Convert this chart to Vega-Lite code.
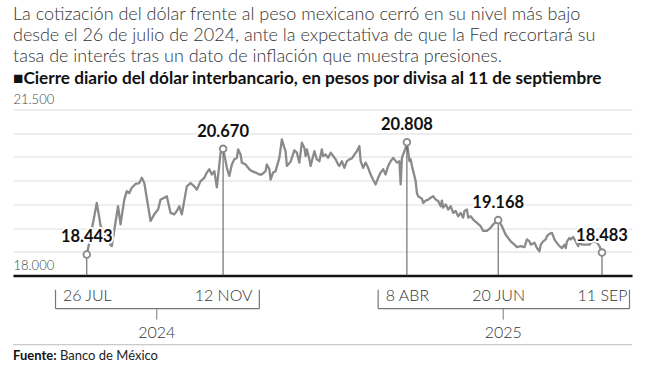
{
  "$schema": "https://vega.github.io/schema/vega-lite/v6.json",
  "width": 619,
  "height": 166,
  "autosize": {"type": "pad"},
  "padding": {"left": 12, "top": 5.5, "right": 15, "bottom": 0},
  "background": "white",
  "config": {"view": {"stroke": null}, "font": "Lato"},
  "title": {
    "text": [
      "La cotización del dólar frente al peso mexicano cerró en su nivel más bajo",
      "desde el 26 de julio de 2024, ante la expectativa de que la Fed recortará su",
      "tasa de interés tras un dato de inflación que muestra presiones."
    ],
    "subtitle": "■Cierre diario del dólar interbancario, en pesos por divisa al 11 de septiembre",
    "anchor": "start",
    "frame": "group",
    "font": "Lato",
    "fontSize": 18,
    "fontWeight": 300,
    "color": "#333333",
    "lineHeight": 21,
    "subtitleFont": "Lato",
    "subtitleFontSize": 17.2,
    "subtitleFontWeight": "bold",
    "subtitleColor": "#111111",
    "subtitlePadding": 4,
    "offset": 6
  },
  "datasets": {
    "serie": [
      {"fecha": "2024-07-26", "valor": 18.443}, {"fecha": "2024-07-28", "valor": 18.69}, {"fecha": "2024-08-03", "valor": 19.53}, {"fecha": "2024-08-05", "valor": 19.22}, {"fecha": "2024-08-06", "valor": 19.05}, {"fecha": "2024-08-14", "valor": 18.64}, {"fecha": "2024-08-15", "valor": 18.62}, {"fecha": "2024-08-20", "valor": 19.46}, {"fecha": "2024-08-22", "valor": 19.08}, {"fecha": "2024-08-25", "valor": 19.60}, {"fecha": "2024-08-27", "valor": 19.78}, {"fecha": "2024-08-29", "valor": 19.74}, {"fecha": "2024-08-31", "valor": 19.85}, {"fecha": "2024-09-03", "valor": 19.93}, {"fecha": "2024-09-06", "valor": 19.95}, {"fecha": "2024-09-08", "valor": 20.06}, {"fecha": "2024-09-10", "valor": 19.95}, {"fecha": "2024-09-15", "valor": 19.15}, {"fecha": "2024-09-18", "valor": 19.29}, {"fecha": "2024-09-21", "valor": 19.39}, {"fecha": "2024-09-23", "valor": 19.60}, {"fecha": "2024-09-26", "valor": 19.64}, {"fecha": "2024-09-28", "valor": 19.67}, {"fecha": "2024-10-01", "valor": 19.32}, {"fecha": "2024-10-04", "valor": 19.29}, {"fecha": "2024-10-06", "valor": 19.36}, {"fecha": "2024-10-08", "valor": 19.46}, {"fecha": "2024-10-10", "valor": 19.29}, {"fecha": "2024-10-14", "valor": 19.88}, {"fecha": "2024-10-17", "valor": 19.95}, {"fecha": "2024-10-20", "valor": 19.88}, {"fecha": "2024-10-22", "valor": 19.81}, {"fecha": "2024-10-25", "valor": 19.99}, {"fecha": "2024-10-28", "valor": 20.06}, {"fecha": "2024-10-30", "valor": 20.17}, {"fecha": "2024-11-01", "valor": 20.24}, {"fecha": "2024-11-03", "valor": 20.13}, {"fecha": "2024-11-05", "valor": 20.20}, {"fecha": "2024-11-07", "valor": 19.86}, {"fecha": "2024-11-09", "valor": 20.34}, {"fecha": "2024-11-10", "valor": 20.59}, {"fecha": "2024-11-12", "valor": 20.670}, {"fecha": "2024-11-13", "valor": 20.55}, {"fecha": "2024-11-15", "valor": 20.27}, {"fecha": "2024-11-17", "valor": 20.10}, {"fecha": "2024-11-19", "valor": 20.34}, {"fecha": "2024-11-21", "valor": 20.45}, {"fecha": "2024-11-23", "valor": 20.48}, {"fecha": "2024-11-24", "valor": 20.66}, {"fecha": "2024-11-26", "valor": 20.55}, {"fecha": "2024-11-27", "valor": 20.38}, {"fecha": "2024-11-30", "valor": 20.34}, {"fecha": "2024-12-03", "valor": 20.24}, {"fecha": "2024-12-05", "valor": 20.20}, {"fecha": "2024-12-08", "valor": 20.17}, {"fecha": "2024-12-11", "valor": 20.13}, {"fecha": "2024-12-13", "valor": 20.13}, {"fecha": "2024-12-16", "valor": 20.20}, {"fecha": "2024-12-17", "valor": 20.34}, {"fecha": "2024-12-19", "valor": 20.24}, {"fecha": "2024-12-20", "valor": 20.02}, {"fecha": "2024-12-22", "valor": 20.17}, {"fecha": "2024-12-24", "valor": 20.20}, {"fecha": "2024-12-27", "valor": 20.48}, {"fecha": "2024-12-29", "valor": 20.87}, {"fecha": "2024-12-31", "valor": 20.69}, {"fecha": "2025-01-01", "valor": 20.62}, {"fecha": "2025-01-02", "valor": 20.31}, {"fecha": "2025-01-05", "valor": 20.40}, {"fecha": "2025-01-08", "valor": 20.64}, {"fecha": "2025-01-10", "valor": 20.59}, {"fecha": "2025-01-12", "valor": 20.38}, {"fecha": "2025-01-14", "valor": 20.80}, {"fecha": "2025-01-16", "valor": 20.69}, {"fecha": "2025-01-17", "valor": 20.52}, {"fecha": "2025-01-18", "valor": 20.66}, {"fecha": "2025-01-20", "valor": 20.45}, {"fecha": "2025-01-21", "valor": 20.31}, {"fecha": "2025-01-24", "valor": 20.62}, {"fecha": "2025-01-26", "valor": 20.45}, {"fecha": "2025-01-28", "valor": 20.41}, {"fecha": "2025-01-30", "valor": 20.66}, {"fecha": "2025-01-31", "valor": 20.52}, {"fecha": "2025-02-02", "valor": 20.55}, {"fecha": "2025-02-04", "valor": 20.48}, {"fecha": "2025-02-06", "valor": 20.59}, {"fecha": "2025-02-08", "valor": 20.52}, {"fecha": "2025-02-10", "valor": 20.45}, {"fecha": "2025-02-12", "valor": 20.34}, {"fecha": "2025-02-13", "valor": 20.31}, {"fecha": "2025-02-15", "valor": 20.41}, {"fecha": "2025-02-17", "valor": 20.27}, {"fecha": "2025-02-19", "valor": 20.41}, {"fecha": "2025-02-21", "valor": 20.45}, {"fecha": "2025-02-23", "valor": 20.47}, {"fecha": "2025-02-25", "valor": 20.55}, {"fecha": "2025-02-27", "valor": 20.62}, {"fecha": "2025-03-01", "valor": 20.73}, {"fecha": "2025-03-02", "valor": 20.41}, {"fecha": "2025-03-04", "valor": 20.27}, {"fecha": "2025-03-06", "valor": 20.38}, {"fecha": "2025-03-08", "valor": 20.27}, {"fecha": "2025-03-10", "valor": 20.13}, {"fecha": "2025-03-12", "valor": 20.02}, {"fecha": "2025-03-14", "valor": 19.92}, {"fecha": "2025-03-16", "valor": 20.06}, {"fecha": "2025-03-18", "valor": 20.17}, {"fecha": "2025-03-20", "valor": 20.24}, {"fecha": "2025-03-22", "valor": 20.13}, {"fecha": "2025-03-24", "valor": 20.31}, {"fecha": "2025-03-26", "valor": 20.41}, {"fecha": "2025-03-28", "valor": 20.48}, {"fecha": "2025-03-31", "valor": 20.38}, {"fecha": "2025-04-02", "valor": 20.41}, {"fecha": "2025-04-03", "valor": 19.92}, {"fecha": "2025-04-04", "valor": 20.48}, {"fecha": "2025-04-07", "valor": 20.69}, {"fecha": "2025-04-08", "valor": 20.808}, {"fecha": "2025-04-09", "valor": 20.62}, {"fecha": "2025-04-10", "valor": 20.41}, {"fecha": "2025-04-11", "valor": 20.45}, {"fecha": "2025-04-12", "valor": 20.31}, {"fecha": "2025-04-13", "valor": 20.20}, {"fecha": "2025-04-14", "valor": 20.10}, {"fecha": "2025-04-15", "valor": 19.99}, {"fecha": "2025-04-16", "valor": 19.74}, {"fecha": "2025-04-17", "valor": 19.67}, {"fecha": "2025-04-20", "valor": 19.62}, {"fecha": "2025-04-21", "valor": 19.53}, {"fecha": "2025-04-23", "valor": 19.58}, {"fecha": "2025-04-25", "valor": 19.60}, {"fecha": "2025-04-27", "valor": 19.64}, {"fecha": "2025-04-29", "valor": 19.67}, {"fecha": "2025-05-01", "valor": 19.60}, {"fecha": "2025-05-03", "valor": 19.57}, {"fecha": "2025-05-05", "valor": 19.46}, {"fecha": "2025-05-06", "valor": 19.58}, {"fecha": "2025-05-07", "valor": 19.43}, {"fecha": "2025-05-09", "valor": 19.50}, {"fecha": "2025-05-11", "valor": 19.39}, {"fecha": "2025-05-13", "valor": 19.46}, {"fecha": "2025-05-15", "valor": 19.32}, {"fecha": "2025-05-17", "valor": 19.36}, {"fecha": "2025-05-19", "valor": 19.25}, {"fecha": "2025-05-21", "valor": 19.32}, {"fecha": "2025-05-23", "valor": 19.22}, {"fecha": "2025-05-24", "valor": 19.36}, {"fecha": "2025-05-26", "valor": 19.39}, {"fecha": "2025-05-27", "valor": 19.22}, {"fecha": "2025-05-29", "valor": 19.25}, {"fecha": "2025-05-31", "valor": 19.18}, {"fecha": "2025-06-03", "valor": 19.11}, {"fecha": "2025-06-06", "valor": 19.04}, {"fecha": "2025-06-08", "valor": 18.94}, {"fecha": "2025-06-11", "valor": 18.94}, {"fecha": "2025-06-14", "valor": 19.01}, {"fecha": "2025-06-16", "valor": 19.08}, {"fecha": "2025-06-20", "valor": 19.168}, {"fecha": "2025-06-23", "valor": 19.04}, {"fecha": "2025-06-26", "valor": 18.86}, {"fecha": "2025-06-28", "valor": 18.79}, {"fecha": "2025-06-30", "valor": 18.72}, {"fecha": "2025-07-03", "valor": 18.65}, {"fecha": "2025-07-05", "valor": 18.60}, {"fecha": "2025-07-08", "valor": 18.62}, {"fecha": "2025-07-11", "valor": 18.60}, {"fecha": "2025-07-13", "valor": 18.76}, {"fecha": "2025-07-15", "valor": 18.72}, {"fecha": "2025-07-16", "valor": 18.65}, {"fecha": "2025-07-19", "valor": 18.69}, {"fecha": "2025-07-21", "valor": 18.58}, {"fecha": "2025-07-23", "valor": 18.51}, {"fecha": "2025-07-24", "valor": 18.65}, {"fecha": "2025-07-26", "valor": 18.72}, {"fecha": "2025-07-28", "valor": 18.76}, {"fecha": "2025-07-29", "valor": 18.83}, {"fecha": "2025-07-31", "valor": 18.88}, {"fecha": "2025-08-02", "valor": 18.90}, {"fecha": "2025-08-04", "valor": 18.76}, {"fecha": "2025-08-05", "valor": 18.72}, {"fecha": "2025-08-07", "valor": 18.65}, {"fecha": "2025-08-08", "valor": 18.62}, {"fecha": "2025-08-10", "valor": 18.58}, {"fecha": "2025-08-12", "valor": 18.65}, {"fecha": "2025-08-13", "valor": 18.58}, {"fecha": "2025-08-14", "valor": 18.72}, {"fecha": "2025-08-16", "valor": 18.79}, {"fecha": "2025-08-17", "valor": 18.76}, {"fecha": "2025-08-19", "valor": 18.81}, {"fecha": "2025-08-21", "valor": 18.72}, {"fecha": "2025-08-23", "valor": 18.62}, {"fecha": "2025-08-24", "valor": 18.69}, {"fecha": "2025-08-26", "valor": 18.65}, {"fecha": "2025-08-29", "valor": 18.65}, {"fecha": "2025-09-01", "valor": 18.65}, {"fecha": "2025-09-02", "valor": 18.69}, {"fecha": "2025-09-05", "valor": 18.72}, {"fecha": "2025-09-07", "valor": 18.69}, {"fecha": "2025-09-09", "valor": 18.62}, {"fecha": "2025-09-11", "valor": 18.483}
    ],
    "hitos": [
      {"fecha": "2024-07-26", "valor": 18.443, "etiqueta": "18.443"},
      {"fecha": "2024-11-12", "valor": 20.670, "etiqueta": "20.670"},
      {"fecha": "2025-04-08", "valor": 20.808, "etiqueta": "20.808"},
      {"fecha": "2025-06-20", "valor": 19.168, "etiqueta": "19.168"},
      {"fecha": "2025-09-11", "valor": 18.483, "etiqueta": "18.483"}
    ],
    "anios": [
      {"anio": "2024", "inicio": "2024-07-01", "fin": "2024-12-11", "centro": "2024-09-20"},
      {"anio": "2025", "inicio": "2025-03-16", "fin": "2025-10-03", "centro": "2025-06-24"}
    ],
    "fuente": [
      {"fecha": "2024-05-28", "fin": "2025-10-05", "rotulo": "Fuente:", "origen": "Banco de México"}
    ]
  },
  "layer": [
    {
      "data": {"name": "serie"},
      "mark": {"type": "line", "color": "#8a8a8a", "strokeWidth": 2.3, "strokeJoin": "round"},
      "encoding": {
        "x": {
          "field": "fecha", "type": "temporal",
          "scale": {"type": "utc", "domain": [{"year": 2024, "month": 5, "date": 28, "utc": true}, {"year": 2025, "month": 10, "date": 5, "utc": true}]},
          "axis": {
            "title": null,
            "values": [
              {"year": 2024, "month": 7, "date": 26, "utc": true},
              {"year": 2024, "month": 11, "date": 12, "utc": true},
              {"year": 2025, "month": 4, "date": 8, "utc": true},
              {"year": 2025, "month": 6, "date": 20, "utc": true},
              {"year": 2025, "month": 9, "date": 11, "utc": true}
            ],
            "tickCount": 20,
            "labelExpr": "utcdate(datum.value) + ' ' + ['ENE','FEB','MAR','ABR','MAY','JUN','JUL','AGO','SEP','OCT','NOV','DIC'][utcmonth(datum.value)]",
            "grid": false, "ticks": false, "tickSize": 0,
            "domain": true, "domainColor": "#111111", "domainWidth": 2.5,
            "labelFont": "Lato", "labelFontSize": 16, "labelFontWeight": 300, "labelColor": "#333333",
            "labelPadding": 12, "labelFlush": false, "labelBound": false, "labelOverlap": false
          }
        },
        "y": {
          "field": "valor", "type": "quantitative",
          "scale": {"domain": [18, 21.5], "nice": false, "zero": false},
          "axis": {
            "title": null,
            "values": [18, 18.5, 19, 19.5, 20, 20.5, 21, 21.5],
            "tickCount": 10,
            "labelExpr": "datum.value < 18.1 || datum.value > 21.4 ? format(datum.value, '.3f') : ''",
            "grid": true, "gridColor": "#dcdcdc", "gridWidth": 1,
            "domain": false, "ticks": false, "tickSize": 0,
            "labelAlign": "left", "labelBaseline": "alphabetic", "labelPadding": 0, "labelOffset": -6,
            "labelOverlap": false, "labelFlush": false, "labelBound": false,
            "labelFont": "Lato", "labelFontSize": 13, "labelFontWeight": 300, "labelColor": "#444444"
          }
        }
      }
    },
    {
      "data": {"name": "hitos"},
      "mark": {"type": "rule", "color": "#555555", "strokeWidth": 1},
      "encoding": {
        "x": {"field": "fecha", "type": "temporal"},
        "y": {"field": "valor", "type": "quantitative"},
        "y2": {"datum": 18}
      }
    },
    {
      "data": {"name": "hitos"},
      "mark": {"type": "point", "shape": "circle", "filled": true, "fill": "white", "stroke": "#8a8a8a", "strokeWidth": 1.8, "size": 45, "opacity": 1},
      "encoding": {
        "x": {"field": "fecha", "type": "temporal"},
        "y": {"field": "valor", "type": "quantitative"}
      }
    },
    {
      "data": {"name": "hitos"},
      "mark": {"type": "text", "font": "Lato", "fontSize": 16.5, "fontWeight": "bold", "baseline": "alphabetic", "dy": -12, "fill": "white", "stroke": "white", "strokeWidth": 4, "strokeJoin": "round"},
      "encoding": {
        "x": {"field": "fecha", "type": "temporal"},
        "y": {"field": "valor", "type": "quantitative"},
        "text": {"field": "etiqueta"}
      }
    },
    {
      "data": {"name": "hitos"},
      "mark": {"type": "text", "font": "Lato", "fontSize": 16.5, "fontWeight": "bold", "baseline": "alphabetic", "dy": -12, "color": "#111111"},
      "encoding": {
        "x": {"field": "fecha", "type": "temporal"},
        "y": {"field": "valor", "type": "quantitative"},
        "text": {"field": "etiqueta"}
      }
    },
    {
      "data": {"name": "anios"},
      "mark": {"type": "rule", "color": "#777777", "strokeWidth": 1.2},
      "encoding": {
        "x": {"field": "inicio", "type": "temporal"},
        "x2": {"field": "fin"},
        "y": {"datum": 17.30}
      }
    },
    {
      "data": {"name": "anios"},
      "mark": {"type": "rule", "color": "#777777", "strokeWidth": 1.2},
      "encoding": {
        "x": {"field": "inicio", "type": "temporal"},
        "y": {"datum": 17.30},
        "y2": {"datum": 17.70}
      }
    },
    {
      "data": {"name": "anios"},
      "mark": {"type": "rule", "color": "#777777", "strokeWidth": 1.2},
      "encoding": {
        "x": {"field": "fin", "type": "temporal"},
        "y": {"datum": 17.30},
        "y2": {"datum": 17.70}
      }
    },
    {
      "data": {"name": "anios"},
      "mark": {"type": "rule", "color": "#777777", "strokeWidth": 1},
      "encoding": {
        "x": {"field": "centro", "type": "temporal"},
        "y": {"datum": 17.30},
        "y2": {"datum": 17.07}
      }
    },
    {
      "data": {"name": "anios"},
      "mark": {"type": "text", "font": "Lato", "fontSize": 16, "fontWeight": 300, "color": "#333333", "baseline": "alphabetic"},
      "encoding": {
        "x": {"field": "centro", "type": "temporal"},
        "y": {"datum": 16.69},
        "text": {"field": "anio"}
      }
    },
    {
      "data": {"name": "fuente"},
      "mark": {"type": "rule", "color": "#bbbbbb", "strokeWidth": 1},
      "encoding": {
        "x": {"field": "fecha", "type": "temporal"},
        "x2": {"field": "fin"},
        "y": {"datum": 16.54}
      }
    },
    {
      "data": {"name": "fuente"},
      "mark": {"type": "text", "font": "Lato", "fontSize": 13, "fontWeight": "bold", "color": "#111111", "align": "left", "baseline": "alphabetic"},
      "encoding": {
        "x": {"field": "fecha", "type": "temporal"},
        "y": {"datum": 16.22},
        "text": {"field": "rotulo"}
      }
    },
    {
      "data": {"name": "fuente"},
      "mark": {"type": "text", "font": "Lato", "fontSize": 13, "fontWeight": "normal", "color": "#222222", "align": "left", "baseline": "alphabetic", "dx": 47},
      "encoding": {
        "x": {"field": "fecha", "type": "temporal"},
        "y": {"datum": 16.22},
        "text": {"field": "origen"}
      }
    }
  ]
}
